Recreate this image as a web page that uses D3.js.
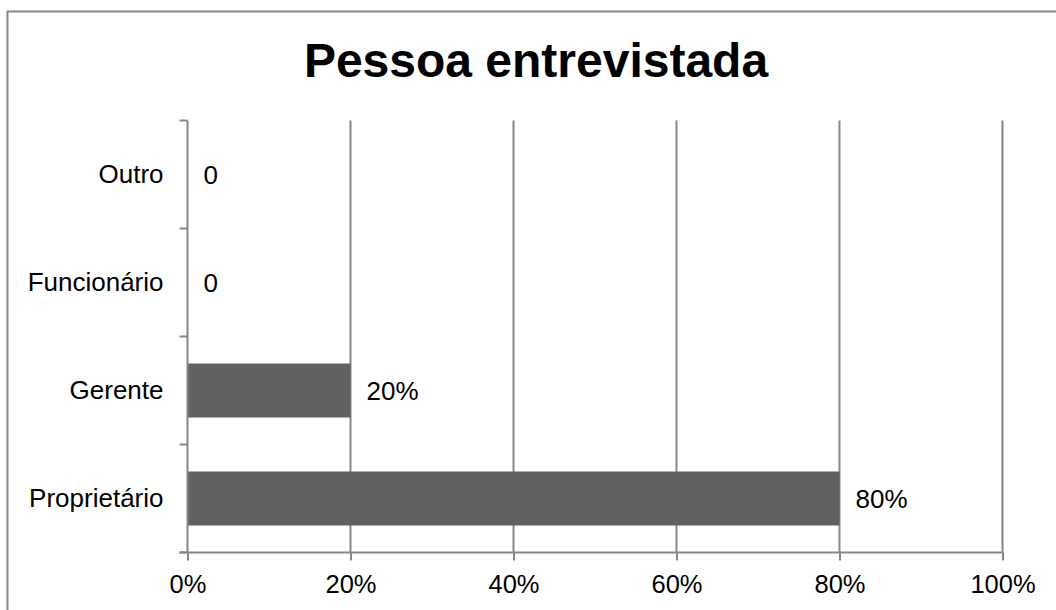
<!DOCTYPE html>
<html>
<head>
<meta charset="utf-8">
<script src="https://cdn.jsdelivr.net/npm/d3@7"></script>
<style>
  html, body { margin: 0; padding: 0; background: #fff; }
  svg { display: block; }
  text { font-family: "Liberation Sans", Arial, sans-serif; fill: #000; }
</style>
</head>
<body>
<div id="chart"></div>
<script>
// Categories listed bottom to top, as they appear on the vertical axis
const categories = ["Proprietário", "Gerente", "Funcionário", "Outro"];
const shares = [0.80, 0.20, 0, 0];
const valueLabels = ["80%", "20%", "0", "0"];
const xTicks = [0, 0.2, 0.4, 0.6, 0.8, 1.0];
const chartTitle = "Pessoa entrevistada";

const W = 1056, H = 610;
const plot = { left: 187.5, right: 1002.5, top: 120.5, bottom: 552.5 };
const gridColor = "#868686";
const barColor = "#606060";

const svg = d3.select("#chart").append("svg")
  .attr("width", W).attr("height", H);

// Outer chart frame
svg.append("rect")
  .attr("x", 7.5).attr("y", 11.5)
  .attr("width", 1070).attr("height", 620)
  .attr("fill", "none").attr("stroke", gridColor).attr("stroke-width", 2);

svg.append("text")
  .attr("x", 536).attr("y", 77)
  .attr("text-anchor", "middle")
  .attr("font-size", 48).attr("font-weight", "bold")
  .text(chartTitle);

const x = d3.scaleLinear().domain([0, 1]).range([plot.left, plot.right]);
const y = d3.scaleBand().domain(categories.slice().reverse())
  .range([plot.top, plot.bottom]).paddingInner(0.5).paddingOuter(0.25);
const yBands = d3.scaleBand().domain(categories.slice().reverse())
  .range([plot.top, plot.bottom]);

// Vertical gridlines
svg.append("g").selectAll("line")
  .data(xTicks.filter(d => d > 0))
  .join("line")
  .attr("x1", d => x(d)).attr("x2", d => x(d))
  .attr("y1", plot.top).attr("y2", plot.bottom)
  .attr("stroke", gridColor).attr("stroke-width", 2);

const rows = categories.map((c, i) => ({ c, v: shares[i], label: valueLabels[i] }));

// Bars
svg.append("g").selectAll("rect")
  .data(rows)
  .join("rect")
  .attr("x", x(0))
  .attr("y", d => y(d.c))
  .attr("width", d => x(d.v) - x(0))
  .attr("height", y.bandwidth())
  .attr("fill", barColor);

// Value labels
svg.append("g").selectAll("text")
  .data(rows)
  .join("text")
  .attr("x", d => x(d.v) + 16)
  .attr("y", d => y(d.c) + y.bandwidth() / 2)
  .attr("dy", "0.36em")
  .attr("font-size", 26)
  .text(d => d.label);

// Horizontal axis
const xAxis = d3.axisBottom(x)
  .tickValues(xTicks)
  .tickFormat(d3.format(".0%"))
  .tickSizeInner(8).tickSizeOuter(0).tickPadding(14);
const gx = svg.append("g").attr("transform", `translate(0,${plot.bottom})`).call(xAxis);
gx.select(".domain").attr("stroke", gridColor).attr("stroke-width", 2)
  .attr("d", `M${plot.left - 8},0H${plot.right}`);
gx.selectAll(".tick line").attr("stroke", gridColor).attr("stroke-width", 2);
gx.selectAll(".tick text").attr("font-size", 25.5)
  .attr("font-family", "'Liberation Sans', Arial, sans-serif").attr("fill", "#000");

// Vertical axis with category labels, ticks on band boundaries
const yAxis = d3.axisLeft(yBands).tickSize(0).tickPadding(24);
const gy = svg.append("g").attr("transform", `translate(${plot.left},0)`).call(yAxis);
gy.select(".domain").attr("stroke", gridColor).attr("stroke-width", 2)
  .attr("d", `M0,${plot.top}V${plot.bottom}`);
gy.selectAll(".tick text").attr("font-size", 26)
  .attr("font-family", "'Liberation Sans', Arial, sans-serif").attr("fill", "#000");

const boundaries = yBands.domain().map(c => yBands(c)).concat([plot.bottom]);
svg.append("g").selectAll("line")
  .data(boundaries)
  .join("line")
  .attr("x1", plot.left - 8).attr("x2", plot.left)
  .attr("y1", d => d).attr("y2", d => d)
  .attr("stroke", gridColor).attr("stroke-width", 2);
</script>
</body>
</html>
